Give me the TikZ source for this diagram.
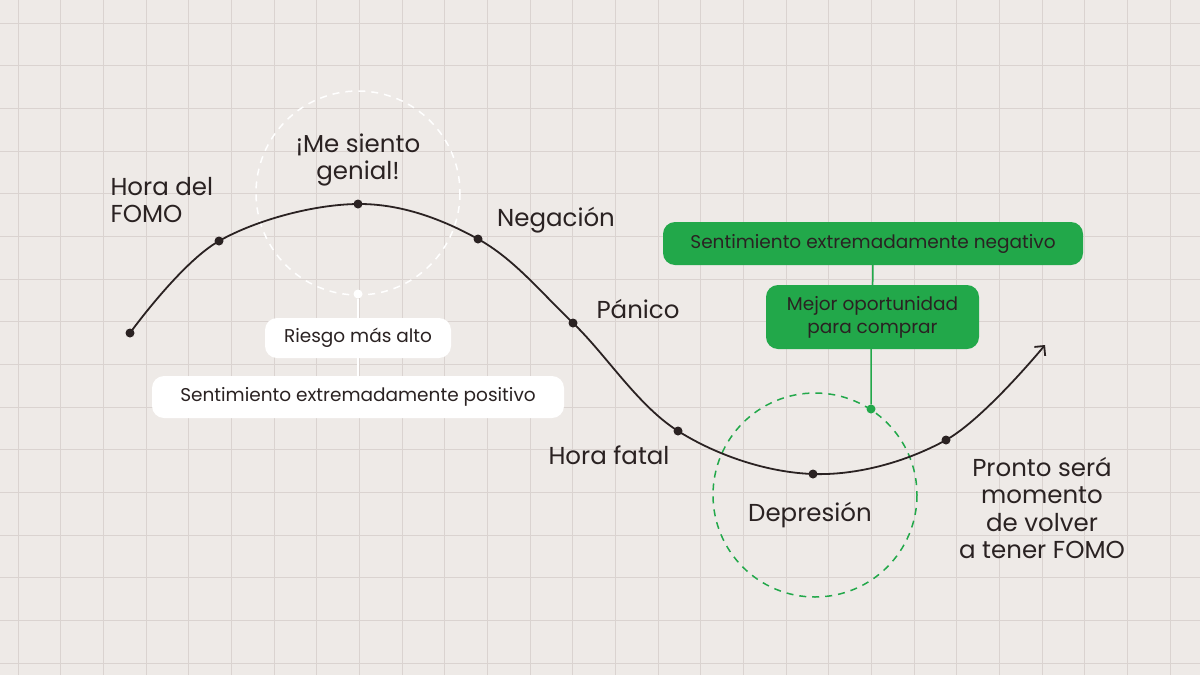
\documentclass[tikz,border=0pt]{standalone}
\usepackage{fontspec}
\setmainfont{Poppins}
\usetikzlibrary{arrows.meta}
\definecolor{bg}{HTML}{EEEAE7}
\definecolor{gridc}{HTML}{DAD3D0}
\definecolor{ink}{HTML}{2A2222}
\definecolor{grn}{HTML}{22A84A}
\begin{document}
\begin{tikzpicture}[x=1pt,y=-1pt,
 lbl/.style={text=ink,font=\fontsize{24.5}{27}\selectfont,align=center},
 pill/.style={rounded corners=12pt,font=\fontsize{18.5}{20}\selectfont,text=ink,align=center,inner sep=0pt},
 dot/.style={circle,fill=ink,inner sep=0pt,minimum size=9pt}]
\fill[bg] (0,0) rectangle (1200,675);
\useasboundingbox (0,0) rectangle (1200,675);
\foreach \i in {0,...,27} \draw[gridc,line width=0.8pt] (18+42.67*\i,0) -- (18+42.67*\i,675);
\foreach \j in {0,...,15} \draw[gridc,line width=0.8pt] (0,23+42.67*\j) -- (1200,23+42.67*\j);
% circles
\draw[white,dashed,line width=1.5pt,dash pattern=on 7pt off 6pt] (358,193) circle (102);
\draw[grn,dashed,line width=1.5pt,dash pattern=on 7pt off 6pt] (815,495) circle (102);
% curve
\draw[ink,line width=1.8pt,-{Straight Barb[length=7pt,width=14pt]}] plot[smooth,tension=0.6] coordinates {(130,333) (219,241) (358,204) (478,239) (573,323) (678,431) (813,474) (946,440) (1045,345)};
\foreach \p/\n in {{130,333}/d1,{219,241}/d2,{358,204}/d3,{478,239}/d4,{573,323}/d5,{678,431}/d6,{813,474}/d7,{946,440}/d8} \node[dot] (\n) at (\p) {};
% white pills
\node[pill,fill=white,minimum width=412pt,minimum height=42pt] (pos) at (358,397) {Sentimiento extremadamente positivo};
\node[pill,fill=white,minimum width=186pt,minimum height=40pt] (risk) at (358,338) {Riesgo más alto};
\node[circle,fill=white,inner sep=0pt,minimum size=9pt] (wd) at (358,294) {};
\draw[white,line width=1.5pt] (wd) -- (risk) (risk) -- (pos);
% green pills
\node[pill,fill=grn,minimum width=420pt,minimum height=43pt] (neg) at (873,243.5) {Sentimiento extremadamente negativo};
\node[pill,fill=grn,minimum width=213pt,minimum height=64pt,font=\fontsize{18.5}{23}\selectfont] (opp) at (872.5,317) {Mejor oportunidad\\para comprar};
\node[circle,fill=grn,inner sep=0pt,minimum size=9pt] (gd) at (871,409) {};
\draw[grn,line width=1.5pt] (neg) -- (opp) (opp.south -| gd) -- (gd);
% labels
\node[lbl] (l1) at (358,160) {¡Me siento\\genial!};
\node[lbl,align=left,anchor=west] (l2) at (107,200) {Hora del\\FOMO};
\node[lbl] (l3) at (556,220) {Negación};
\node[lbl] (l4) at (638,309) {Pánico};
\node[lbl] (l5) at (609,455) {Hora fatal};
\node[lbl] (l6) at (810,515) {Depresión};
\node[lbl,font=\fontsize{24.5}{27.5}\selectfont] (l7) at (1042,508) {Pronto será\\momento\\de volver\\a tener FOMO};
\end{tikzpicture}
\end{document}
